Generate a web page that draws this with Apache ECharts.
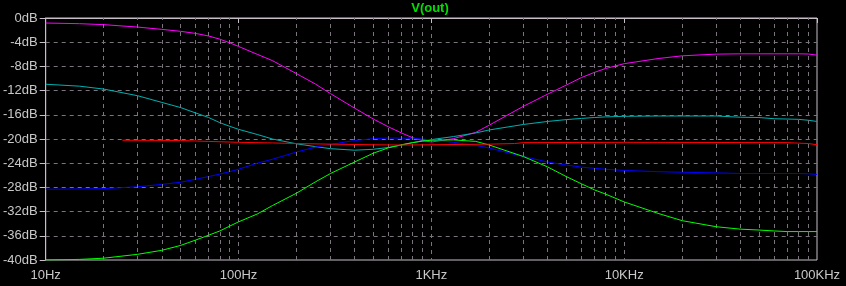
<!DOCTYPE html>
<html>
<head>
<meta charset="utf-8">
<style>
  html, body { margin: 0; padding: 0; background: #000; }
  #chart { width: 846px; height: 286px; }
</style>
<script src="https://cdn.jsdelivr.net/npm/echarts@6/dist/echarts.min.js"></script>
</head>
<body>
<div id="chart"></div>
<script>
// ---- data (frequency in Hz, magnitude in dB) ----
const freq = [10, 15, 20, 30, 40, 50, 60, 70, 80, 90, 100, 125, 150, 200, 250, 300, 400, 500, 600, 700, 800, 900, 1000,
  1300, 1700, 2000, 3000, 4000, 5000, 6000, 7000, 8000, 10000, 15000, 20000, 30000, 40000, 50000, 60000, 70000, 80000, 90000, 100000];

const magentaDb = [-0.83, -0.94, -1.1, -1.5, -1.88, -2.2, -2.55, -2.98, -3.5, -4.1, -4.7, -6.0, -7.05, -9.2, -10.9, -12.5, -14.9, -16.7, -18.0, -19.0, -19.8, -20.25, -20.5,
  -19.95, -18.9, -17.7, -14.6, -12.6, -11.1, -9.85, -9.0, -8.35, -7.55, -6.7, -6.25, -5.97, -5.92, -5.92, -5.92, -5.92, -5.92, -5.95, -6.14];

const cyanDb = [-10.95, -11.27, -11.75, -12.85, -13.95, -14.8, -15.7, -16.45, -17.3, -17.9, -18.4, -19.25, -20.0, -20.8, -21.25, -21.6, -21.85, -21.7, -21.4, -21.0, -20.6, -20.3, -20.1,
  -19.6, -19.0, -18.5, -17.6, -17.1, -16.8, -16.6, -16.45, -16.35, -16.25, -16.2, -16.2, -16.2, -16.4, -16.45, -16.65, -16.7, -16.75, -16.9, -17.1];

const blueDb = [-28.3, -28.25, -28.2, -27.9, -27.5, -27.15, -26.65, -26.2, -25.8, -25.4, -25.0, -24.0, -23.35, -22.15, -21.35, -20.9, -20.25, -19.95, -19.85, -19.85, -19.9, -20.0, -20.15,
  -20.55, -21.05, -21.5, -22.9, -23.8, -24.3, -24.65, -24.85, -25.0, -25.2, -25.4, -25.5, -25.6, -25.7, -25.7, -25.7, -25.7, -25.7, -25.75, -25.85];

const greenDb = [-40.0, -39.9, -39.7, -39.06, -38.4, -37.6, -36.7, -35.9, -35.2, -34.4, -33.7, -32.4, -31.0, -28.95, -27.1, -25.7, -23.8, -22.35, -21.45, -20.95, -20.6, -20.35, -20.2,
  -20.15, -20.4, -21.0, -22.9, -24.6, -26.2, -27.4, -28.4, -29.1, -30.4, -32.3, -33.5, -34.5, -34.9, -35.05, -35.2, -35.3, -35.3, -35.3, -35.3];

const redFreq = [25, 50, 70, 100, 150, 200, 300, 500, 700, 1000, 2000, 2700, 3000, 10000, 70000, 90000, 100000];
const redDb = [-20.2, -20.25, -20.4, -20.55, -20.65, -20.75, -20.85, -20.95, -21.0, -20.95, -20.85, -20.75, -20.6, -20.55, -20.6, -20.75, -20.95];

const xTickLabels = ['10Hz', '100Hz', '1KHz', '10KHz', '100KHz'];
const yTickLabels = ['0dB', '-4dB', '-8dB', '-12dB', '-16dB', '-20dB', '-24dB', '-28dB', '-32dB', '-36dB', '-40dB'];
const titleText = 'V(out)';

// ---- styling ----
const FONT = 'Liberation Sans, Arial, sans-serif';
const AXIS_COLOR = '#c8bec8';
const GRID_COLOR = '#7c747c';
const TEXT_COLOR = '#c8c8c8';
const DASH = [4, 4];

function pairs(xs, ys) { return xs.map((x, i) => [x, ys[i]]); }

// minor vertical grid lines (2..9 within each decade)
const minorGrid = [];
for (let d = 10; d < 100000; d *= 10) {
  for (let k = 2; k <= 9; k++) minorGrid.push({ xAxis: d * k });
}

function curve(name, color, xs, ys, z) {
  return {
    name, type: 'line', data: pairs(xs, ys), showSymbol: false, symbol: 'none',
    smooth: false, z,
    lineStyle: { color, width: 1 }, itemStyle: { color },
    emphasis: { disabled: true }, silent: true
  };
}

const chart = echarts.init(document.getElementById('chart'), null, { renderer: 'canvas' });
chart.setOption({
  animation: false,
  backgroundColor: '#000',
  title: {
    text: titleText, left: 430, top: 2, textAlign: 'center', padding: 0,
    textStyle: { color: '#00e000', fontSize: 13, fontWeight: 'bold', fontFamily: FONT }
  },
  grid: {
    left: 43, right: 29, top: 18, bottom: 26, show: true,
    borderColor: AXIS_COLOR, borderWidth: 1, backgroundColor: '#000'
  },
  xAxis: {
    type: 'log', logBase: 10, min: 10, max: 100000,
    axisLine: { show: true, lineStyle: { color: AXIS_COLOR, width: 1 } },
    axisTick: { show: true, length: 5, lineStyle: { color: AXIS_COLOR } },
    splitLine: { show: true, showMinLine: false, showMaxLine: false, lineStyle: { color: GRID_COLOR, type: DASH, width: 1 } },
    axisLabel: {
      color: TEXT_COLOR, fontSize: 13, fontFamily: FONT, margin: 9,
      formatter: v => xTickLabels[Math.round(Math.log10(v)) - 1]
    }
  },
  yAxis: {
    type: 'value', min: -40, max: 0, interval: 4,
    axisLine: { show: true, lineStyle: { color: AXIS_COLOR, width: 1 } },
    axisTick: { show: true, length: 6, lineStyle: { color: AXIS_COLOR } },
    splitLine: { show: true, showMinLine: false, showMaxLine: false, lineStyle: { color: GRID_COLOR, type: DASH, width: 1 } },
    axisLabel: {
      color: TEXT_COLOR, fontSize: 13, fontFamily: FONT, margin: 8,
      formatter: v => yTickLabels[Math.round(-v / 4)]
    }
  },
  series: [
    {
      name: 'grid', type: 'line', data: [], z: 1, silent: true,
      markLine: {
        silent: true, symbol: ['none', 'none'], label: { show: false },
        lineStyle: { color: GRID_COLOR, type: DASH, width: 1 },
        emphasis: { disabled: true },
        animation: false,
        data: minorGrid
      }
    },
    curve('magenta', '#ff00ff', freq, magentaDb, 2),
    curve('cyan', '#00b0b0', freq, cyanDb, 3),
    curve('blue', '#0000ff', freq, blueDb, 4),
    curve('green', '#00ff00', freq, greenDb, 5),
    curve('red', '#ff0000', redFreq, redDb, 6)
  ]
});
</script>
</body>
</html>
